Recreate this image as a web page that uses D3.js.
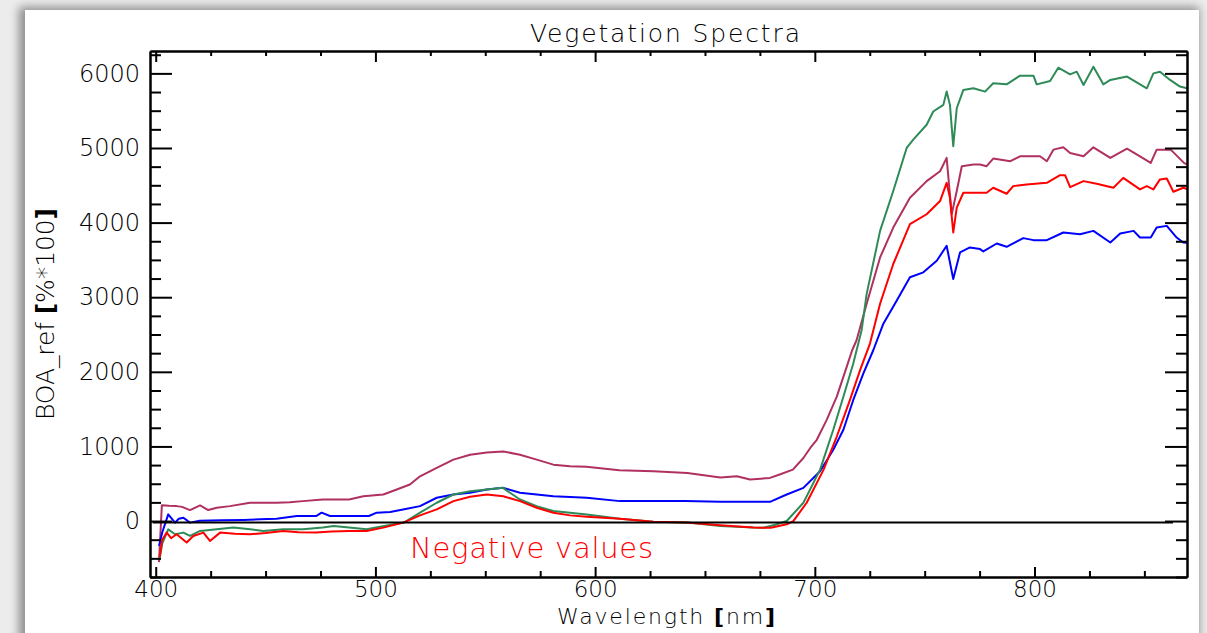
<!DOCTYPE html>
<html lang="en">
<head>
    <meta charset="UTF-8">
    <title>Vegetation Spectra</title>
    <style>
        body {
            margin: 0;
            padding: 0;
            width: 1207px;
            height: 633px;
            overflow: hidden;
            background-color: #ececec;
            font-family: 'DejaVu Sans', sans-serif;
        }

        /* white plot window with a soft shadow */
        .card {
            position: absolute;
            left: 25px;
            top: 10px;
            width: 1174px;
            height: 660px;
            background-color: #ffffff;
            box-shadow: -3px 0 9px 3px rgba(0,0,0,0.4);
        }

        svg {
            position: absolute;
            left: 0;
            top: 0;
        }

        .axis path, .axis line {
            stroke: #000;
            stroke-width: 2;
        }

        .axis text {
            font-family: 'DejaVu Sans', sans-serif;
            font-size: 24px;
            font-weight: 200;
            fill: #000;
        }

        .x-labels text {
            font-size: 23px;
        }

        .label {
            font-family: 'DejaVu Sans', sans-serif;
            font-weight: 200;
            fill: #000;
        }
    </style>
</head>
<body>
    <div class="card"></div>
    <svg width="1207" height="633"></svg>

    <script src="https://cdn.jsdelivr.net/npm/d3@7"></script>
    <script>
        // axis ranges and tick labels
        const xRange = [397.4, 869.4];
        const yRange = [-750, 6300];
        const xMajorTicks = [400, 500, 600, 700, 800];
        const xMinorTicks = [425, 450, 475, 525, 550, 575, 625, 650, 675, 725, 750, 775, 825, 850];
        const yMajorTicks = [0, 1000, 2000, 3000, 4000, 5000, 6000];
        const yMinorTicks = [-750, -500, -250, 250, 500, 750, 1250, 1500, 1750, 2250, 2500, 2750,
                             3250, 3500, 3750, 4250, 4500, 4750, 5250, 5500, 5750, 6250];

        // spectra: [wavelength nm, BOA_ref %*100]
        const maroonSpectrum = [
            [401.5, -550], [402.8, 213], [406, 205], [409.5, 200], [412, 190], [415.6, 147], [420.2, 209],
            [423.9, 147], [427.8, 179], [433.8, 200], [442.9, 245], [455, 245], [461, 253], [467, 267],
            [476, 289], [488, 289], [494.5, 333], [503.6, 356], [509.7, 423], [515.7, 489], [520.3, 600],
            [527.9, 712], [535.5, 823], [543.1, 889], [550.7, 920], [558.2, 933], [565.8, 889], [573.4, 823],
            [581, 756], [588.6, 733], [596, 727], [611, 680], [626.5, 667], [642, 645], [657, 585],
            [664.5, 600], [670.5, 556], [679.6, 578], [684, 623], [690, 689], [694.8, 845], [698, 983],
            [700.9, 1089], [705.4, 1356], [710, 1667], [714.5, 2067], [717, 2289], [719, 2423], [723.6, 2912],
            [729.7, 3533], [735.7, 3933], [743.3, 4333], [750.9, 4556], [757, 4689], [760, 4867], [762.3, 4112],
            [764.6, 4423], [766.9, 4756], [772.2, 4779], [775.2, 4779], [778.2, 4756], [781.2, 4858],
            [789, 4823], [793.4, 4889], [802.5, 4889], [805.6, 4823], [808.6, 4978], [813.1, 5009],
            [816.2, 4933], [822.3, 4889], [826.8, 5009], [834.5, 4867], [842.1, 4991], [848, 4889],
            [852.9, 4800], [855.6, 4978], [862, 4978], [868, 4800], [869.4, 4780]
        ];

        const blueSpectrum = [
            [401.5, -333], [403, -150], [405.7, 89], [408.8, -21], [410.5, 30], [412.6, 45], [415.6, -21],
            [420, 5], [430, 10], [440, 15], [447.5, 23], [455, 30], [464.2, 67], [473, 67], [475.5, 112],
            [479.3, 67], [490, 67], [497, 67], [500.6, 112], [506.7, 120], [514.3, 165], [520.3, 200],
            [527.9, 312], [535.5, 356], [543.1, 379], [550.7, 423], [558.2, 445], [565.8, 379], [581, 333],
            [596.2, 312], [611.3, 267], [641, 267], [657, 258], [679.6, 258], [687.2, 356], [694.8, 445],
            [702.4, 667], [708.4, 956], [713, 1223], [717.5, 1623], [722.1, 1979], [726.6, 2289],
            [731.2, 2645], [737.3, 2956], [743.3, 3267], [749.4, 3333], [755.5, 3489], [760, 3689],
            [763, 3245], [766.1, 3600], [770.6, 3667], [775.2, 3645], [776.7, 3613], [782.8, 3720],
            [787.3, 3676], [794.9, 3792], [799.5, 3765], [805.6, 3765], [813.1, 3867], [820.7, 3845],
            [826.8, 3889], [834.5, 3733], [839, 3853], [845.1, 3889], [848, 3800], [852.9, 3800],
            [855.6, 3933], [860.2, 3956], [864.7, 3800], [867.7, 3733], [869.4, 3730]
        ];

        const greenSpectrum = [
            [401.8, -500], [403, -300], [405.7, -111], [408.8, -177], [412.6, -155], [415.6, -200],
            [420.2, -133], [427.8, -111], [435.3, -88], [443, -111], [449, -133], [458, -111], [467, -111],
            [476, -88], [481, -67], [488, -88], [496, -111], [504, -67], [513, -21], [520.3, 112],
            [527.9, 245], [535.5, 356], [543.1, 400], [550.7, 423], [558, 445], [565.8, 289], [573.4, 200],
            [581, 134], [596.2, 89], [611.3, 32], [626.5, -8], [642, -21], [657, -67], [672, -88],
            [676.6, -89], [682, -50], [687.2, 0], [694.8, 245], [702.4, 689], [708.4, 1223], [713, 1667],
            [717.5, 2112], [721.3, 2556], [723.6, 3045], [729.7, 3889], [735.7, 4423], [741.8, 5000],
            [744.8, 5112], [750.9, 5312], [753.9, 5489], [758.5, 5578], [760, 5756], [761.5, 5578],
            [763, 5023], [764.6, 5533], [767.6, 5778], [772.2, 5800], [777.5, 5756], [781.2, 5867],
            [787.3, 5853], [793.4, 5969], [799.5, 5969], [801, 5853], [807.1, 5899], [810.8, 6076],
            [816.2, 5987], [819.2, 6023], [822.3, 5845], [826.8, 6089], [831.3, 5853], [834.5, 5912],
            [842.1, 5957], [851.1, 5800], [854.1, 6000], [857.1, 6023], [861.7, 5912], [866.2, 5823],
            [869.4, 5800]
        ];

        const redSpectrum = [
            [401.8, -480], [403, -250], [405, -155], [407, -230], [409.5, -177], [414.1, -288], [417.1, -200],
            [421.7, -155], [424.7, -267], [429.3, -155], [436, -170], [442.9, -177], [450, -160], [458, -133],
            [465, -150], [473, -155], [480, -140], [488, -133], [496, -133], [503.6, -88], [512.7, -21],
            [520.3, 76], [527.9, 156], [535.5, 267], [543.1, 325], [550.7, 356], [558.2, 333], [565.8, 267],
            [573.4, 178], [581, 112], [588.6, 76], [596.2, 58], [611.3, 32], [626.5, -8], [641.7, -21],
            [657, -57], [672, -88], [680, -89], [687.2, -44], [690.2, 0], [696.3, 245], [704, 689],
            [710, 1133], [716, 1623], [720.6, 2023], [725.1, 2379], [729.7, 2912], [735.7, 3445],
            [743.3, 3979], [750.9, 4112], [757, 4289], [760, 4533], [761.5, 4333], [763, 3867], [764.6, 4200],
            [767.6, 4400], [772.2, 4400], [778.2, 4400], [781.2, 4467], [787.3, 4387], [790.3, 4489],
            [796.4, 4512], [805.6, 4533], [811.6, 4636], [813.9, 4636], [816.2, 4476], [822.3, 4556],
            [828.3, 4520], [835.9, 4467], [840.4, 4600], [848, 4445], [851.1, 4489], [854.1, 4445],
            [857.1, 4579], [860.2, 4592], [863.2, 4413], [867.7, 4467], [869.4, 4450]
        ];

        // reference line just under zero
        const zeroLine = [[398.6, -20], [863, -20]];

        const spectra = [
            { name: "maroon", color: "#b03060", values: maroonSpectrum },
            { name: "blue", color: "#0000ff", values: blueSpectrum },
            { name: "green", color: "#2e8b57", values: greenSpectrum },
            { name: "red", color: "#ff0000", values: redSpectrum }
        ];

        // plot box in page pixels
        const boxLeft = 150, boxRight = 1187, boxTop = 51, boxBottom = 577;

        const svg = d3.select("svg");

        const x = d3.scaleLinear().domain(xRange).range([boxLeft, boxRight]);
        const y = d3.scaleLinear().domain(yRange).range([boxBottom, boxTop]);

        // curves
        const line = d3.line()
            .x(d => x(d[0]))
            .y(d => y(d[1]));

        svg.append("g")
            .selectAll("path")
            .data(spectra)
            .enter().append("path")
            .attr("fill", "none")
            .attr("stroke", d => d.color)
            .attr("stroke-width", 2)
            .attr("stroke-linejoin", "round")
            .attr("d", d => line(d.values));

        svg.append("path")
            .attr("fill", "none")
            .attr("stroke", "#000")
            .attr("stroke-width", 2)
            .attr("d", line(zeroLine));

        // axes: IDL style box, ticks pointing inwards on all four sides
        function drawAxis(axis, transform, cls) {
            svg.append("g")
                .attr("class", "axis " + (cls || ""))
                .attr("transform", transform)
                .call(axis);
        }

        const plain = d3.format("d");

        // minor ticks first, majors and labels on top
        drawAxis(d3.axisBottom(x).tickValues(xMinorTicks).tickSizeInner(-6).tickSizeOuter(0).tickFormat(""),
            `translate(0,${boxBottom})`);
        drawAxis(d3.axisBottom(x).tickValues(xMajorTicks).tickSizeInner(-10).tickSizeOuter(0)
            .tickPadding(4).tickFormat(plain),
            `translate(0,${boxBottom})`, "x-labels");
        drawAxis(d3.axisTop(x).tickValues(xMinorTicks).tickSizeInner(-5).tickSizeOuter(0).tickFormat(""),
            `translate(0,${boxTop})`);
        drawAxis(d3.axisTop(x).tickValues(xMajorTicks).tickSizeInner(-11).tickSizeOuter(0).tickFormat(""),
            `translate(0,${boxTop})`);

        drawAxis(d3.axisLeft(y).tickValues(yMinorTicks).tickSizeInner(-11).tickSizeOuter(0).tickFormat(""),
            `translate(${boxLeft},0)`);
        drawAxis(d3.axisLeft(y).tickValues(yMajorTicks).tickSizeInner(-22).tickSizeOuter(0)
            .tickPadding(10).tickFormat(plain),
            `translate(${boxLeft},0)`);
        drawAxis(d3.axisRight(y).tickValues(yMinorTicks).tickSizeInner(-11).tickSizeOuter(0).tickFormat(""),
            `translate(${boxRight},0)`);
        drawAxis(d3.axisRight(y).tickValues(yMajorTicks).tickSizeInner(-22).tickSizeOuter(0).tickFormat(""),
            `translate(${boxRight},0)`);

        // titles
        svg.append("text")
            .attr("class", "label")
            .attr("x", 665)
            .attr("y", 42)
            .attr("text-anchor", "middle")
            .attr("font-size", 25)
            .attr("textLength", 270)
            .attr("lengthAdjust", "spacing")
            .text("Vegetation Spectra");

        const xTitle = svg.append("text")
            .attr("class", "label")
            .attr("x", 666)
            .attr("y", 623.5)
            .attr("text-anchor", "middle")
            .attr("font-size", 22)
            .attr("textLength", 218)
            .attr("lengthAdjust", "spacing");
        xTitle.append("tspan").text("Wavelength ");
        xTitle.append("tspan").attr("font-weight", "bold").text("[");
        xTitle.append("tspan").text("nm");
        xTitle.append("tspan").attr("font-weight", "bold").text("]");

        const yTitle = svg.append("text")
            .attr("class", "label")
            .attr("transform", "translate(54,314) rotate(-90)")
            .attr("text-anchor", "middle")
            .attr("font-size", 25)
            .attr("textLength", 212)
            .attr("lengthAdjust", "spacing");
        yTitle.append("tspan").text("BOA_ref ");
        yTitle.append("tspan").attr("font-weight", "bold").text("[");
        yTitle.append("tspan").text("%*100");
        yTitle.append("tspan").attr("font-weight", "bold").text("]");

        // annotation
        svg.append("text")
            .attr("class", "label")
            .attr("x", 410)
            .attr("y", 558)
            .attr("font-size", 29)
            .attr("textLength", 243)
            .attr("lengthAdjust", "spacing")
            .style("fill", "#ff0000")
            .text("Negative values");
    </script>
</body>
</html>
